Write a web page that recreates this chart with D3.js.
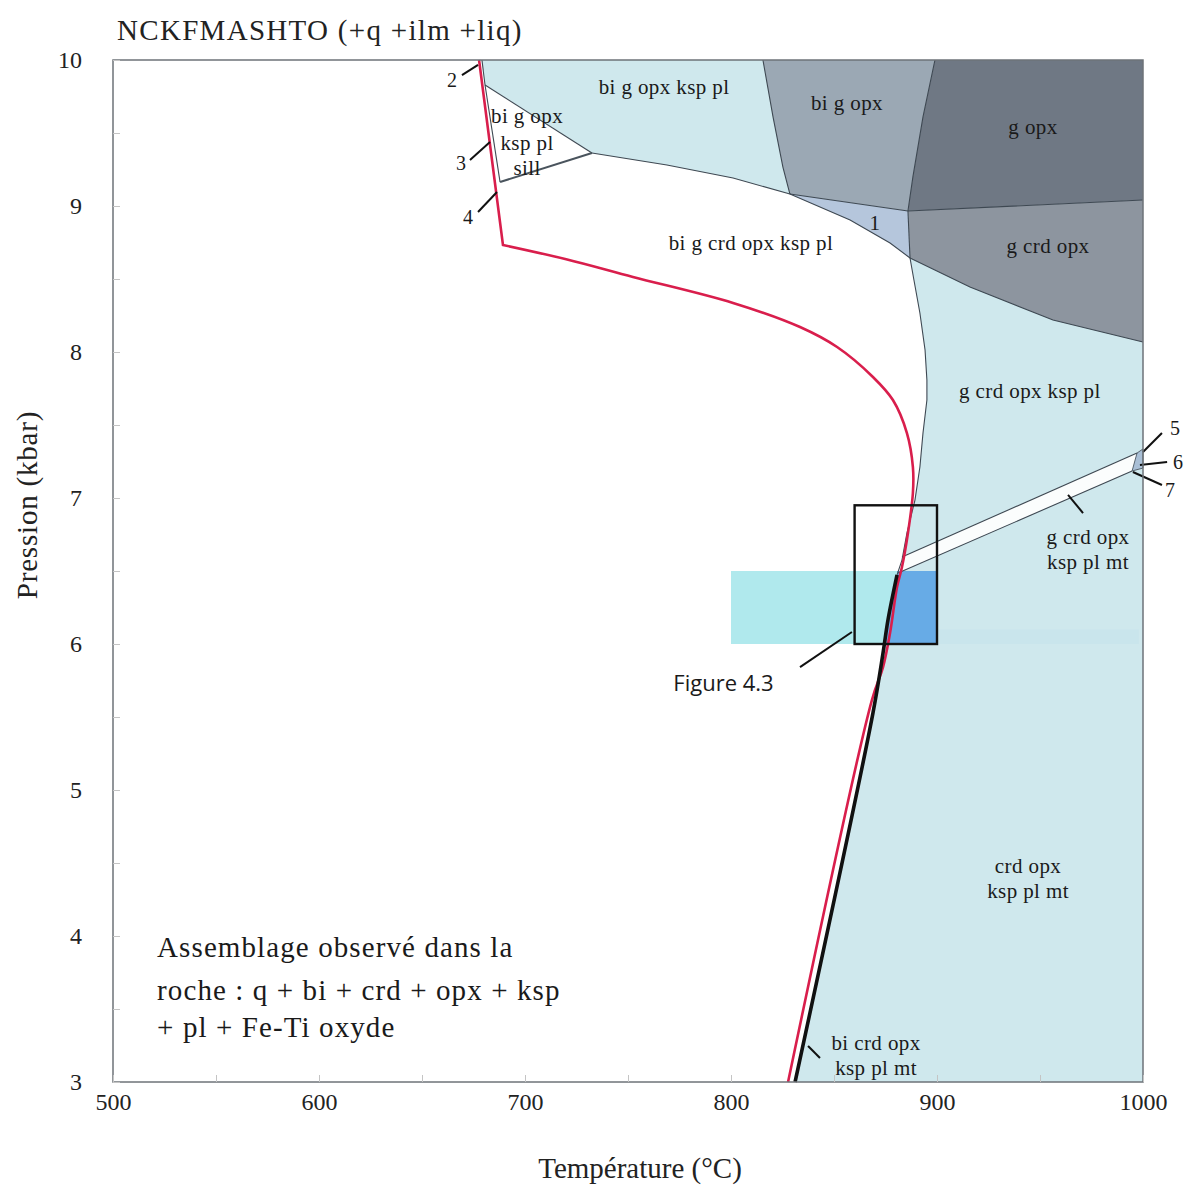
<!DOCTYPE html>
<html><head><meta charset="utf-8">
<script src="https://cdn.jsdelivr.net/npm/d3@7"></script>
<style>body{margin:0;background:#fff}</style>
</head><body><svg id="c" width="1186" height="1187"></svg>
<script>
// ---------- data (T in °C, P in kbar) ----------
const tempTicks = [500, 600, 700, 800, 900, 1000];
const pressTicks = [3, 4, 5, 6, 7, 8, 9, 10];
const tempMinor = [550, 650, 750, 850, 950];
const pressMinor = [3.5, 4.5, 5.5, 6.5, 7.5, 8.5, 9.5];

const solidusUpper = [[677.7,10],[689.3,8.733]];
const solidus = [[689.3,8.733],[720,8.635],[752.4,8.514],[801.0,8.336],[833.5,8.171],[851.5,8.034],[868.9,7.829],[878.6,7.671],[885.4,7.445],[888.3,7.212],[888.3,7.034],[885.9,6.760],[883.0,6.527],[880.6,6.390],[877.2,6.075],[873.8,5.842],[868.4,5.616],[827.7,3]];
const blackLine = [[831.1,3],[868.9,5.527],[873.8,5.938],[876.2,6.164],[880.6,6.473]];
const crdIn = [[880.6,6.473],[883.0,6.575],[885.4,6.760],[889.3,6.986],[891.7,7.212],[893.2,7.445],[895.1,7.671],[895.1,7.808],[894.2,8.014],[891.7,8.267],[888.8,8.493],[886.9,8.644]];
const whiteTop = [[886.9,8.644],[877.2,8.747],[857.8,8.904],[828.6,9.082],[801.0,9.192],[768.9,9.281],[732.5,9.363]];
const blueTopEdge = [[679.1,10],[680.6,9.829]];
const sillTri = [[680.6,9.829],[732.5,9.363],[687.9,9.164]];
const bigopxLeft = [[815.5,10],[820.4,9.610],[825.2,9.267],[828.6,9.082]];
const bigopxRight = [[885.9,8.966],[888.3,9.199],[893.2,9.610],[899.0,10]];
const gopxBase = [[885.9,8.966],[1000,9.041]];
const gcrdBase = [[886.9,8.644],[916.0,8.445],[956.3,8.219],[1000,8.068]];
const stripUpper = [[883.0,6.596],[997.1,7.308]];
const stripLower = [[881.1,6.486],[994.7,7.185]];
const fan = [[994.7,7.185],[997.1,7.308],[1000,7.336],[1000,7.205]];
const bandT = [800, 900];
const bandP = [6.0, 6.5];
const boxT = [860, 900];
const boxP = [6.0, 6.95];

const regionLabels = [
  {t:"bi g opx ksp pl", T:767.5, P:9.815},
  {t:"bi g opx", T:856.3, P:9.705},
  {t:"g opx", T:946.6, P:9.541},
  {t:"bi g opx", T:701.0, P:9.616},
  {t:"ksp pl", T:701.0, P:9.432},
  {t:"sill", T:701.0, P:9.260},
  {t:"bi g crd opx ksp pl", T:809.7, P:8.747},
  {t:"1", T:869.9, P:8.884},
  {t:"g crd opx", T:953.9, P:8.726},
  {t:"g crd opx ksp pl", T:945.1, P:7.733},
  {t:"g crd opx", T:973.3, P:6.733},
  {t:"ksp pl mt", T:973.3, P:6.562},
  {t:"crd opx", T:944.2, P:4.479},
  {t:"ksp pl mt", T:944.2, P:4.308},
  {t:"bi crd opx", T:870.4, P:3.267},
  {t:"ksp pl mt", T:870.4, P:3.096}
];
const numLabels = [
  {t:"2", T:664.6, P:9.863}, {t:"3", T:668.9, P:9.295}, {t:"4", T:672.3, P:8.925},
  {t:"5", T:1015.5, P:7.479}, {t:"6", T:1017.0, P:7.247}, {t:"7", T:1013.1, P:7.055}
];
const pointers = [
  [[669.4,9.897],[677.2,9.966]],
  [[673.3,9.315],[683.0,9.438]],
  [[677.2,8.959],[686.4,9.096]],
  [[1009.2,7.445],[1000,7.315]],
  [[1011.7,7.247],[998.5,7.226]],
  [[1009.2,7.089],[995.1,7.178]],
  [[963.6,7.021],[970.9,6.897]],
  [[837.4,3.247],[843.2,3.164]],
  [[833.5,5.842],[858.7,6.082]]
];
const noteLines = ["Assemblage observé dans la", "roche : q + bi + crd + opx + ksp", "+ pl + Fe-Ti oxyde"];
const notePos = {T:521.4, P:[3.925, 3.630, 3.377]};
const figLabel = {t:"Figure 4.3", T:772.0, P:5.73};

// ---------- scales ----------
const svg = d3.select("#c");
const x = d3.scaleLinear().domain([500,1000]).range([113,1143]);
const y = d3.scaleLinear().domain([3,10]).range([1082,60]);
const line = d3.line().x(d=>x(d[0])).y(d=>y(d[1]));
const smooth = d3.line().x(d=>x(d[0])).y(d=>y(d[1])).curve(d3.curveCatmullRom);
const poly = pts => line(pts) + "Z";

const C = {
  lb:"#cfe8ed", bigopx:"#9ba8b4", gopx:"#6f7884", gcrd:"#8d959f", r1:"#b5c6dc",
  cyan:"#b0e9ed", blue:"#67abe6", edge:"#3e4852"
};

const g = svg.append("g");

// light blue main field
const lbPoly = [[679.1,10],[1000,10],[1000,3]]
  .concat(blackLine).concat(crdIn.slice(1)).concat(whiteTop.slice(1)).concat([[680.6,9.829]]);
g.append("path").attr("d", poly(lbPoly)).attr("fill", C.lb);

// dark fields
g.append("path").attr("d", poly(bigopxLeft.concat(bigopxRight))).attr("fill", C.bigopx);
g.append("path").attr("d", poly([[899,10],[1000,10],gopxBase[1]].concat([bigopxRight[0],bigopxRight[1],bigopxRight[2]]))).attr("fill", C.gopx);
g.append("path").attr("d", poly([gopxBase[0],gopxBase[1]].concat(gcrdBase.slice().reverse()))).attr("fill", C.gcrd);
g.append("path").attr("d", poly([[828.6,9.082],[885.9,8.966],[886.9,8.644],[877.2,8.747],[857.8,8.904]])).attr("fill", C.r1);

// white sill triangle
g.append("path").attr("d", poly(sillTri)).attr("fill", "#fff");

// white strip
g.append("path").attr("d", poly([stripUpper[0],stripUpper[1],stripLower[1],stripLower[0]])).attr("fill", "#fbfdfd");
g.append("path").attr("d", poly(fan)).attr("fill", "#a9bfd6").attr("stroke", C.edge).attr("stroke-width",0.8);

// cyan band + blue part right of black line
g.append("rect").attr("x", x(bandT[0])).attr("y", y(bandP[1]))
  .attr("width", x(bandT[1])-x(bandT[0])).attr("height", y(bandP[0])-y(bandP[1])).attr("fill", C.cyan);
const clipPts = blackLine.concat([[880.6,7],[1000,7],[1000,3]]);
svg.append("clipPath").attr("id","rightOfBlack").append("path").attr("d", poly(clipPts));
g.append("rect").attr("x", x(bandT[0])).attr("y", y(bandP[1]))
  .attr("width", x(bandT[1])-x(bandT[0])).attr("height", y(bandP[0])-y(bandP[1]))
  .attr("fill", C.blue).attr("clip-path","url(#rightOfBlack)");
// faint bleed of the band
g.append("rect").attr("x", x(900)).attr("y", y(6.1)).attr("width", x(998)-x(900)).attr("height", y(6.0)-y(6.1))
  .attr("fill", C.blue).attr("opacity", 0.05);

// boundaries
const edges = [blueTopEdge, [sillTri[0],sillTri[1]], [sillTri[0],sillTri[2]], whiteTop, crdIn,
  bigopxLeft, bigopxRight, gopxBase, gcrdBase, [[828.6,9.082],[885.9,8.966]], [[885.9,8.966],[886.9,8.644]],
  stripUpper, stripLower];
edges.forEach(e => g.append("path").attr("d", line(e)).attr("fill","none").attr("stroke", C.edge).attr("stroke-width",1.1));
g.append("path").attr("d", line([sillTri[2],sillTri[1]])).attr("fill","none").attr("stroke","#4a545d").attr("stroke-width",2);

// red and black curves
g.append("path").attr("d", line(solidusUpper) + smooth(solidus).replace(/^M/,"L")).attr("fill","none")
  .attr("stroke","#d91e4c").attr("stroke-width",2.6).attr("stroke-linejoin","miter");
g.append("path").attr("d", smooth(blackLine)).attr("fill","none").attr("stroke","#111").attr("stroke-width",3.6);

// box
g.append("rect").attr("x", x(boxT[0])).attr("y", y(boxP[1]))
  .attr("width", x(boxT[1])-x(boxT[0])).attr("height", y(boxP[0])-y(boxP[1]))
  .attr("fill","none").attr("stroke","#111").attr("stroke-width",2.4);

// pointers
pointers.forEach(p => g.append("path").attr("d", line(p)).attr("stroke","#111").attr("stroke-width",2));

// frame
svg.append("rect").attr("x",113).attr("y",60).attr("width",1030).attr("height",1022)
  .attr("fill","none").attr("stroke","#6e7378").attr("stroke-width",1.5);

// minor inward ticks
svg.append("g").attr("transform","translate(0,1082)")
  .call(d3.axisBottom(x).tickValues(tempMinor.concat(tempTicks)).tickSize(-7).tickFormat(""))
  .call(a=>a.select(".domain").remove()).selectAll("line").attr("stroke","#c4c4c4");
svg.append("g").attr("transform","translate(113,0)")
  .call(d3.axisLeft(y).tickValues(pressMinor.concat(pressTicks)).tickSize(-7).tickFormat(""))
  .call(a=>a.select(".domain").remove()).selectAll("line").attr("stroke","#c4c4c4");

// tick labels via axes
const font = "'Liberation Serif','Times New Roman',serif";
const ax = svg.append("g").attr("transform","translate(0,1082)")
  .call(d3.axisBottom(x).tickValues(tempTicks).tickFormat(d3.format("d")).tickSize(0).tickPadding(11));
ax.select(".domain").remove();
ax.attr("font-family",font).attr("font-size",24);
ax.selectAll("text").attr("fill","#222");
const ay = svg.append("g").attr("transform","translate(113,0)")
  .call(d3.axisLeft(y).tickValues(pressTicks).tickFormat(d3.format("d")).tickSize(0).tickPadding(31));
ay.select(".domain").remove();
ay.attr("font-family",font).attr("font-size",24);
ay.selectAll("text").attr("fill","#222");

// axis titles and title
svg.append("text").attr("x",640).attr("y",1178).attr("text-anchor","middle")
  .attr("font-family",font).attr("font-size",29).attr("fill","#222").text("Température (°C)");
svg.append("text").attr("transform","translate(37,505) rotate(-90)").attr("text-anchor","middle")
  .attr("font-family",font).attr("font-size",29).attr("letter-spacing",0.8).attr("fill","#222").text("Pression (kbar)");
svg.append("text").attr("x",117).attr("y",40).attr("font-family",font).attr("font-size",29)
  .attr("letter-spacing",1.3).attr("fill","#222").text("NCKFMASHTO (+q +ilm +liq)");

// region labels
regionLabels.forEach(d => svg.append("text").attr("x",x(d.T)).attr("y",y(d.P)).attr("dy","0.35em")
  .attr("text-anchor","middle").attr("font-family",font).attr("font-size",21).attr("letter-spacing",0.4)
  .attr("fill","#1a1a1a").text(d.t));
numLabels.forEach(d => svg.append("text").attr("x",x(d.T)).attr("y",y(d.P)).attr("dy","0.35em")
  .attr("text-anchor","middle").attr("font-family",font).attr("font-size",20).attr("fill","#1a1a1a").text(d.t));

// note
noteLines.forEach((t,i) => svg.append("text").attr("x",x(notePos.T)).attr("y",y(notePos.P[i])).attr("dy","0.35em")
  .attr("font-family",font).attr("font-size",29).attr("letter-spacing",1.1).attr("fill","#1a1a1a").text(t));

// figure label
svg.append("text").attr("x",x(figLabel.T)).attr("y",y(figLabel.P)).attr("dy","0.35em")
  .attr("font-family","'Open Sans','Noto Sans',sans-serif").attr("font-size",22).attr("fill","#1a1a1a").text(figLabel.t);
</script></body></html>
